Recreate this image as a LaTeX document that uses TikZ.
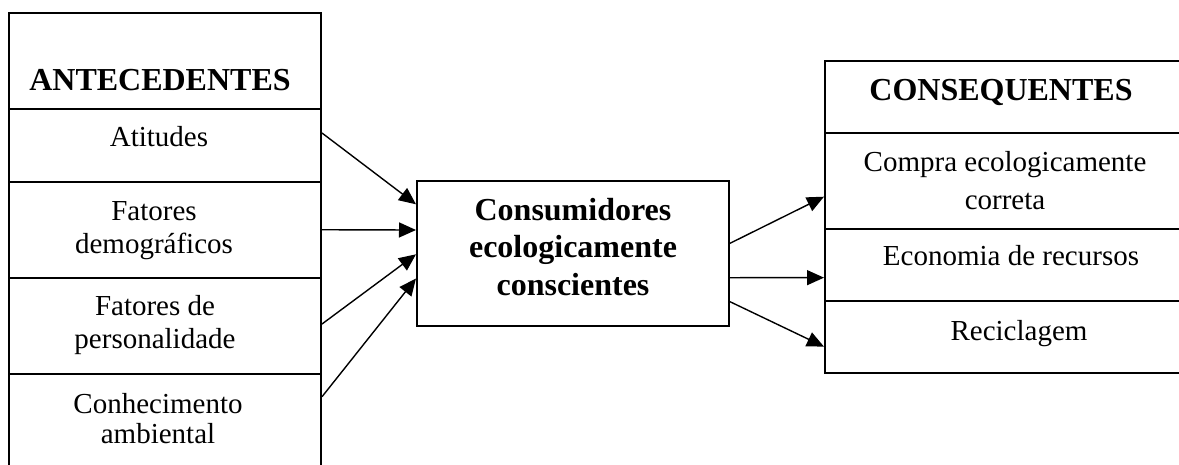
\documentclass[tikz,border=0pt]{standalone}
\usepackage{fontspec}
\setmainfont{Liberation Serif}
\usetikzlibrary{arrows.meta}
\tikzset{
  cell/.style={draw, line width=2pt, rectangle, inner sep=0pt},
  heading/.style={font=\fontsize{32}{37}\selectfont\bfseries, anchor=base, inner sep=0pt},
  item/.style={font=\fontsize{29}{33}\selectfont, anchor=base, align=center, inner sep=0pt},
  link/.style={line width=1.4pt, -{Triangle[length=17pt,width=15pt]}},
}
\begin{document}
\begin{tikzpicture}[x=1pt,y=-1pt]
  \useasboundingbox (0,0) rectangle (1179,464);

  % antecedents column (multi-line labels are placed by their last baseline)
  \node[cell, minimum width=312pt, minimum height=96pt]   (ahead) at (165,61) {};
  \node[cell, minimum width=312pt, minimum height=73pt]   (att)   at (165,145.5) {};
  \node[cell, minimum width=312pt, minimum height=95.5pt] (dem)   at (165,229.75) {};
  \node[cell, minimum width=312pt, minimum height=96pt]   (per)   at (165,325.5) {};
  \node[cell, minimum width=312pt, minimum height=96.5pt] (con)   at (165,421.75) {};

  \node[heading] (tahead) at (160,90.7) {ANTECEDENTES};
  \node[item] (tatt) at (159,146.7) {Atitudes};
  \node[item] (tdem) at (154,253) {Fatores\\demográficos};
  \node[item] (tper) at (155,348.3) {Fatores de\\personalidade};
  \node[item, font=\fontsize{29}{30}\selectfont] (tcon) at (158,443.3) {Conhecimento\\ambiental};

  % central construct
  \node[cell, minimum width=312pt, minimum height=145pt] (eco) at (573,253.5) {};
  \node[heading, align=center, font=\fontsize{32}{37.2}\selectfont\bfseries] (teco) at (573,295)
    {Consumidores\\ecologicamente\\conscientes};

  % consequents column
  \node[cell, minimum width=358pt, minimum height=71.7pt] (chead)  at (1004,96.85) {};
  \node[cell, minimum width=358pt, minimum height=96.6pt] (compra) at (1004,181) {};
  \node[cell, minimum width=358pt, minimum height=71.7pt] (econ)   at (1004,265.15) {};
  \node[cell, minimum width=358pt, minimum height=72.3pt] (recic)  at (1004,337.15) {};

  \node[heading] (tchead) at (1001,100) {CONSEQUENTES};
  \node[item, font=\fontsize{29}{37.5}\selectfont] (tcompra) at (1005,209.3) {Compra ecologicamente\\correta};
  \node[item] (tecon)  at (1011,265.7) {Economia de recursos};
  \node[item] (trecic) at (1019,340) {Reciclagem};

  % antecedents -> construct
  \draw[link] ([yshift=12.5pt]att.east) -- ([yshift=49.2pt]eco.west);
  \draw[link] (dem.east) -- ([yshift=23.5pt]eco.west);
  \draw[link] ([yshift=1.5pt]per.east) -- ([yshift=-0.8pt]eco.west);
  \draw[link] ([yshift=25pt]con.east) -- ([yshift=-25pt]eco.west);

  % construct -> consequents
  \draw[link] ([yshift=10.2pt]eco.east) -- ([yshift=-15.7pt]compra.west);
  \draw[link] ([yshift=-24.2pt]eco.east) -- ([yshift=-12.5pt]econ.west);
  \draw[link] ([yshift=-48.2pt]eco.east) -- ([yshift=-9.5pt]recic.west);
\end{tikzpicture}
\end{document}
